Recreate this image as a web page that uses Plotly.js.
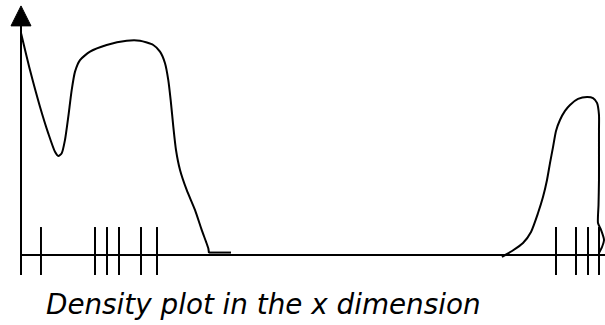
<!DOCTYPE html>
<html>
<head>
<meta charset="utf-8">
<script src="https://cdn.plot.ly/plotly-3.0.1.min.js"></script>
<style>
  html, body { margin: 0; padding: 0; background: #ffffff; }
  #chart { width: 605px; height: 325px; }
</style>
</head>
<body>
<div id="chart"></div>
<script>
// Left density bump (x position, density), then a short tail
const leftX = [0, 1.54, 3.25, 4.67, 5.82, 6.39, 6.97, 7.53, 8.10, 8.68, 9.25, 10.10, 11.82, 14.67, 18.10, 20.38,
               22.65, 23.80, 24.66, 25.22, 25.63, 26.08, 26.54, 27.23, 28.37, 29.79, 30.94, 31.68, 32.07, 32.19];
const leftD = [100, 83.3, 66.8, 54.8, 46.5, 44.6, 45.8, 51.8, 62.3, 74.3, 82.6, 87.8, 91.6, 94.6, 96.5, 96.5,
               94.6, 91.6, 86.4, 78.8, 69.8, 57.8, 47.3, 38.3, 29.3, 20.3, 11.3, 6.0, 3.0, 0.8];
const tailX = [32.19, 35.96];
const tailD = [1.1, 1.1];

// Right density bump
const rightX = [82.36, 84.08, 85.96, 87.33, 88.53, 89.38, 90.07, 90.58, 91.10, 91.61, 92.29, 93.15, 94.01,
                95.38, 96.92, 97.95, 98.63, 98.97, 98.97, 98.97, 98.97, 98.89, 98.80, 99.32, 99.83, 99.49, 98.97];
const rightD = [-0.9, 1.8, 5.4, 10.4, 18.9, 26.1, 33.8, 41.4, 48.6, 55.9, 60.8, 64.9, 67.6,
                70.3, 71.2, 70.7, 68.5, 63.1, 56.3, 45.0, 33.8, 22.5, 14.4, 11.3, 6.8, 3.6, 0.9];

// Observed x values shown as a rug along the axis
const rugX = [3.42, 12.67, 14.73, 16.78, 20.55, 23.29, 91.61, 95.03, 97.09, 98.97];

const titleText = 'Density plot in the x dimension';

// Axis extents
const X_MAX = 100;
const Y_TOP = 103.2;     // top of the vertical axis (base of arrow head)
const ARROW_TIP = 112.2;
const ARROW_HALF = 1.71;
const RUG_TOP = 12.6;
const RUG_BOTTOM = -9.0;

const ink = '#000000';

function segments(xs, y0, y1) {
  const x = [], y = [];
  xs.forEach(v => { x.push(v, v, null); y.push(y0, y1, null); });
  return { x, y };
}

const rug = segments(rugX, RUG_BOTTOM, RUG_TOP);

const traces = [
  // axes
  { x: [0, X_MAX], y: [0, 0], mode: 'lines', line: { color: ink, width: 2 }, hoverinfo: 'skip' },
  { x: [0, 0], y: [RUG_BOTTOM, Y_TOP], mode: 'lines', line: { color: ink, width: 2 }, hoverinfo: 'skip' },
  // rug
  { x: rug.x, y: rug.y, mode: 'lines', line: { color: ink, width: 2 }, connectgaps: false, hoverinfo: 'skip' },
  // density curves
  { x: leftX, y: leftD, mode: 'lines', line: { color: ink, width: 2, shape: 'spline', smoothing: 0.6 } },
  { x: tailX, y: tailD, mode: 'lines', line: { color: ink, width: 2 } },
  { x: rightX, y: rightD, mode: 'lines', line: { color: ink, width: 2, shape: 'spline', smoothing: 0.6 } }
];

const layout = {
  width: 605,
  height: 325,
  margin: { l: 0, r: 0, t: 0, b: 0 },
  paper_bgcolor: '#ffffff',
  plot_bgcolor: '#ffffff',
  showlegend: false,
  xaxis: { range: [-3.596, 100], visible: false, fixedrange: true },
  yaxis: { range: [-31.53, 114.86], visible: false, fixedrange: true },
  shapes: [
    {
      type: 'path', xref: 'x', yref: 'y',
      path: `M ${-ARROW_HALF} ${Y_TOP} L ${ARROW_HALF} ${Y_TOP} L 0 ${ARROW_TIP} Z`,
      fillcolor: ink, line: { color: ink, width: 1 }
    }
  ],
  title: {
    text: titleText,
    font: { family: 'DejaVu Sans', size: 27.8, color: ink, style: 'italic' },
    x: 46 / 605, xanchor: 'left', xref: 'paper',
    y: 1 - 304 / 325, yanchor: 'middle', yref: 'container'
  }
};

Plotly.newPlot('chart', traces, layout, { displayModeBar: false, staticPlot: true });
</script>
</body>
</html>
